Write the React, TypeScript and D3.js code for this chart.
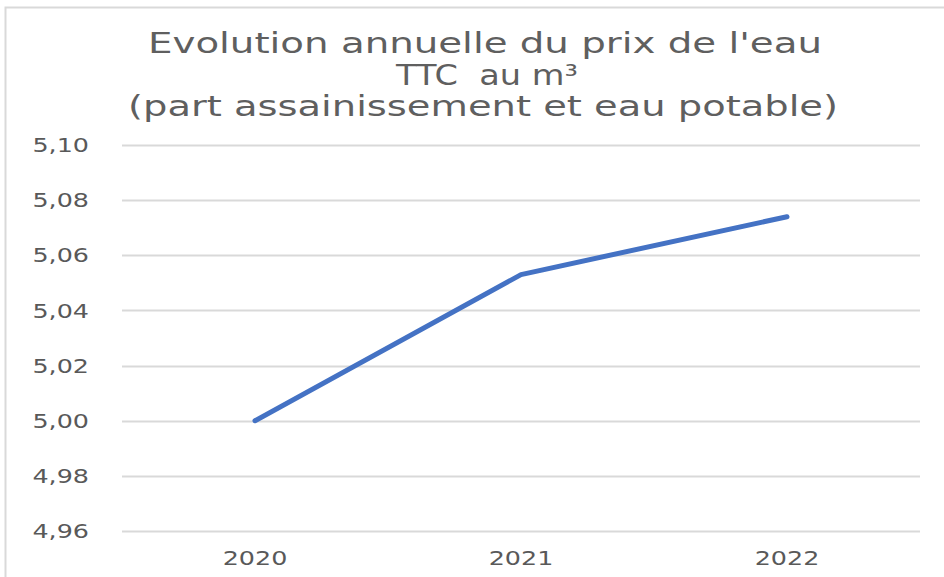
import React, { useEffect, useRef } from 'react';
import * as d3 from 'd3';

const years = ['2020', '2021', '2022'];
const prices = [5.0, 5.053, 5.074];
const yTicks = [4.96, 4.98, 5.0, 5.02, 5.04, 5.06, 5.08, 5.1];
const titleLines = ["Evolution annuelle du prix de l'eau", 'TTC  au m³', '(part assainissement et eau potable)'];
// widths the title lines take in the original (its font is much wider)
const titleWidths = [674, 182, 710];
const titleCenters = [485, 487, 483];

const W = 944;
const H = 577;
const margin = { left: 122, right: 24, top: 145, bottom: 46 };
const sx = 1.27; // horizontal stretch of the tick labels

export default function App() {
  const ref = useRef<SVGSVGElement>(null);

  useEffect(() => {
    const svg = d3.select(ref.current);
    svg.selectAll('*').remove();

    // chart frame, only the top and left edges show
    svg.append('path')
      .attr('d', `M5.5,${H} V7.5 H${W}`)
      .attr('fill', 'none')
      .attr('stroke', '#d9d9d9')
      .attr('stroke-width', 2);

    const x = d3.scaleBand().domain(years).range([margin.left, W - margin.right]);
    const y = d3.scaleLinear().domain([4.96, 5.1]).range([H - margin.bottom, margin.top]);

    // title
    svg.append('g')
      .selectAll('text')
      .data(titleLines)
      .join('text')
      .attr('x', (_, i) => titleCenters[i] - titleWidths[i] / 2)
      .attr('y', (_, i) => 53 + i * 31.5)
      .attr('textLength', (_, i) => titleWidths[i])
      .attr('lengthAdjust', 'spacingAndGlyphs')
      .attr('fill', '#5f5f5f')
      .style('white-space', 'pre')
      .style('font-family', "'DejaVu Sans', sans-serif")
      .style('font-size', '28px')
      .text(d => d);

    // gridlines
    svg.append('g')
      .selectAll('line')
      .data(yTicks)
      .join('line')
      .attr('x1', margin.left)
      .attr('x2', W - margin.right)
      .attr('y1', d => Math.round(y(d)) + 0.5)
      .attr('y2', d => Math.round(y(d)) + 0.5)
      .attr('stroke', '#d9d9d9')
      .attr('stroke-width', 2);

    const fmt = (d: number) => d.toFixed(2).replace('.', ',');

    svg.append('g')
      .selectAll('text')
      .data(yTicks)
      .join('text')
      .attr('transform', d => `translate(89,${y(d)}) scale(${sx},1)`)
      .attr('dy', '0.36em')
      .attr('text-anchor', 'end')
      .attr('fill', '#595959')
      .style('font-family', "'DejaVu Sans', sans-serif")
      .style('font-size', '20px')
      .text(fmt);

    svg.append('g')
      .selectAll('text')
      .data(years)
      .join('text')
      .attr('transform', d => `translate(${(x(d) as number) + x.bandwidth() / 2},565) scale(${sx},1)`)
      .attr('text-anchor', 'middle')
      .attr('fill', '#595959')
      .style('font-family', "'DejaVu Sans', sans-serif")
      .style('font-size', '20px')
      .text(d => d);

    const line = d3.line<number>()
      .x((_, i) => (x(years[i]) as number) + x.bandwidth() / 2)
      .y(d => y(d));

    svg.append('path')
      .datum(prices)
      .attr('d', line)
      .attr('fill', 'none')
      .attr('stroke', '#4472c4')
      .attr('stroke-width', 5)
      .attr('stroke-linecap', 'round')
      .attr('stroke-linejoin', 'round');
  }, []);

  return (
    <svg
      ref={ref}
      width={W}
      height={H}
      style={{ position: 'absolute', left: 0, top: 0, background: '#fff' }}
    />
  );
}
